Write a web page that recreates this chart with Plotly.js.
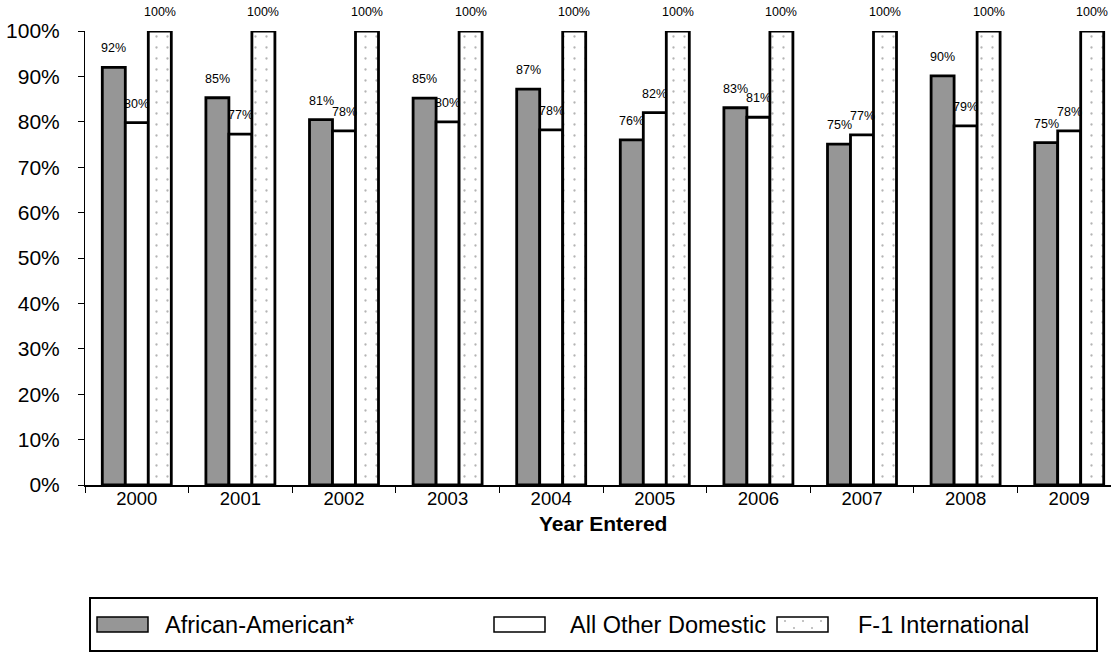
<!DOCTYPE html>
<html>
<head>
<meta charset="utf-8">
<script src="https://cdn.plot.ly/plotly-3.0.1.min.js"></script>
<style>
  html, body { margin: 0; padding: 0; background: #ffffff; }
  #chart { width: 1111px; height: 660px; }
</style>
</head>
<body>
<div id="chart"></div>
<script>
// ---- data ----
var years = ['2000', '2001', '2002', '2003', '2004', '2005', '2006', '2007', '2008', '2009'];
var africanAmerican = [0.92, 0.853, 0.805, 0.852, 0.872, 0.76, 0.831, 0.751, 0.901, 0.754];
var otherDomestic   = [0.798, 0.773, 0.78, 0.80, 0.782, 0.82, 0.81, 0.771, 0.791, 0.78];
var international   = [1, 1, 1, 1, 1, 1, 1, 1, 1, 1];
var seriesNames = ['African-American*', 'All Other Domestic', 'F-1 International'];
var yTickVals = [0, 0.1, 0.2, 0.3, 0.4, 0.5, 0.6, 0.7, 0.8, 0.9, 1.0];
var xTitle = 'Year Entered';

// ---- layout geometry (pixels) ----
var W = 1111, H = 660;
var L = 85, T = 31, B = 175;
var plotBottom = H - B, plotH = plotBottom - T;
var catW = 103.6;
var rightPx = L + catW * years.length;            // plot runs past the right edge
var xMax = -0.5 + (W - L) / catW;
var bargap = 0.334;
var barW = (1 - bargap) / 3;

var FONT = 'Liberation Sans, Arial, sans-serif';
var lineStyle = {color: '#000000', width: 2.8};

var fills = [
  {color: '#969696', line: lineStyle},
  {color: '#ffffff', line: lineStyle},
  {color: '#ffffff', line: lineStyle,
   pattern: {shape: '.', fgcolor: '#b4b4b4', bgcolor: '#ffffff', size: 11, solidity: 0.035}}
];
var seriesData = [africanAmerican, otherDomestic, international];

var traces = seriesData.map(function (vals, k) {
  return {
    type: 'bar', x: years, y: vals, name: seriesNames[k],
    marker: fills[k], showlegend: false, hoverinfo: 'skip'
  };
});

// value labels above each bar
var annotations = [];
seriesData.forEach(function (vals, k) {
  vals.forEach(function (v, i) {
    annotations.push({
      x: i + (k - 1) * barW, y: v, xref: 'x', yref: 'y',
      text: Math.round(v * 100) + '%', showarrow: false,
      yanchor: 'middle', yshift: 19,
      font: {family: FONT, size: 12.5, color: '#000000'}
    });
  });
});

function px(x) { return (x - L) / (W - L); }
function py(y) { return (plotBottom - y) / plotH; }

// x axis title
annotations.push({
  x: px((L + rightPx) / 2), y: py(523), xref: 'paper', yref: 'paper',
  text: '<b>' + xTitle + '</b>', showarrow: false,
  xanchor: 'center', yanchor: 'middle',
  font: {family: FONT, size: 21, color: '#000000'}
});

// custom legend
var shapes = [];
var legBox = {x0: 90, x1: 1097, y0: 598, y1: 651};
shapes.push({type: 'rect', xref: 'paper', yref: 'paper',
  x0: px(legBox.x0), x1: px(legBox.x1), y0: py(legBox.y1), y1: py(legBox.y0),
  line: {color: '#000000', width: 2}, fillcolor: 'rgba(0,0,0,0)'});
var swY0 = 617, swY1 = 632;
var legItems = [
  {sx: 97,  tx: 163, fill: '#969696'},
  {sx: 494, tx: 568, fill: '#ffffff'},
  {sx: 777, tx: 856, fill: '#ffffff', dots: true}
];
legItems.forEach(function (it, k) {
  shapes.push({type: 'rect', xref: 'paper', yref: 'paper',
    x0: px(it.sx), x1: px(it.sx + 51), y0: py(swY1), y1: py(swY0),
    line: {color: '#000000', width: 1.5}, fillcolor: it.fill});
  if (it.dots) {
    var dotPos = [[8, 4], [26, 4], [44, 4], [17, 11], [35, 11]];
    dotPos.forEach(function (d) {
      var cx = it.sx + d[0], cy = swY0 + d[1];
      shapes.push({type: 'circle', xref: 'paper', yref: 'paper',
        x0: px(cx - 1), x1: px(cx + 1), y0: py(cy + 1), y1: py(cy - 1),
        line: {width: 0}, fillcolor: '#b0b0b0'});
    });
  }
  annotations.push({
    x: px(it.tx), y: py((swY0 + swY1) / 2), xref: 'paper', yref: 'paper',
    text: seriesNames[k], showarrow: false, xanchor: 'left', yanchor: 'middle',
    font: {family: FONT, size: 23.5, color: '#000000'}
  });
});

var layout = {
  width: W, height: H,
  margin: {l: L, r: 0, t: T, b: B, pad: 0},
  paper_bgcolor: '#ffffff', plot_bgcolor: '#ffffff',
  barmode: 'group', bargap: bargap, bargroupgap: 0,
  showlegend: false,
  font: {family: FONT, color: '#000000'},
  xaxis: {
    type: 'category', range: [-0.5, xMax],
    tickson: 'boundaries', ticks: 'outside', ticklen: 6, tickcolor: '#000000', tickwidth: 1,
    showline: true, linecolor: '#000000', linewidth: 1.5,
    showgrid: false, zeroline: false,
    tickfont: {family: FONT, size: 18.5, color: '#000000'},
    ticklabelstandoff: -4
  },
  yaxis: {
    range: [0, 1], tickvals: yTickVals, tickformat: '.0%',
    ticks: 'outside', ticklen: 6, tickcolor: '#000000', tickwidth: 1,
    showline: true, linecolor: '#000000', linewidth: 1,
    showgrid: false, zeroline: false,
    tickfont: {family: FONT, size: 21, color: '#000000'},
    ticklabelstandoff: 14
  },
  annotations: annotations,
  shapes: shapes
};

Plotly.newPlot('chart', traces, layout, {staticPlot: true, displayModeBar: false});
</script>
</body>
</html>
